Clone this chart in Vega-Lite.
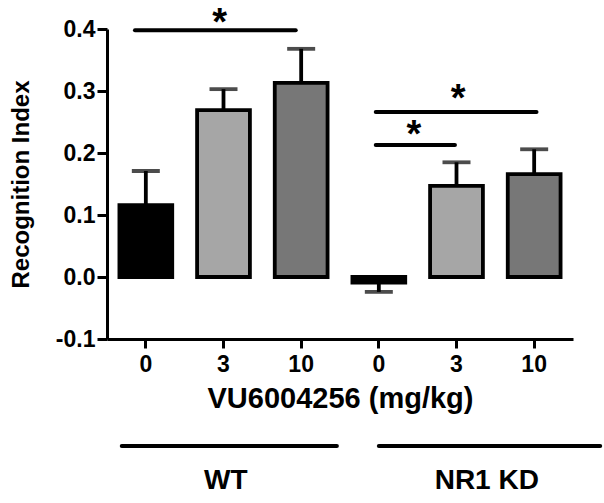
{
  "$schema": "https://vega.github.io/schema/vega-lite/v6.json",
  "width": 466,
  "height": 310,
  "autosize": {"type": "none"},
  "padding": {"left": 107, "top": 29, "right": 31, "bottom": 164},
  "background": "white",
  "config": {
    "view": {"stroke": null},
    "font": "Liberation Sans",
    "axis": {"grid": false}
  },
  "datasets": {
    "bars": [
      {"cond": "WT-0", "shade": "black", "mean": 0.116, "err": 0.171},
      {"cond": "WT-3", "shade": "light", "mean": 0.269, "err": 0.303},
      {"cond": "WT-10", "shade": "dark", "mean": 0.313, "err": 0.368},
      {"cond": "KD-0", "shade": "black", "mean": -0.009, "err": -0.024},
      {"cond": "KD-3", "shade": "light", "mean": 0.147, "err": 0.185},
      {"cond": "KD-10", "shade": "dark", "mean": 0.166, "err": 0.206}
    ],
    "sig": [
      {"x1": 0.36, "x2": 2.43, "y": 0.398},
      {"x1": 3.46, "x2": 5.53, "y": 0.266},
      {"x1": 3.46, "x2": 4.48, "y": 0.213}
    ],
    "stars": [
      {"x": 1.45, "y": 0.391, "t": "*"},
      {"x": 4.52, "y": 0.267, "t": "*"},
      {"x": 3.95, "y": 0.209, "t": "*"}
    ],
    "groups": [
      {"x1": 0.19, "x2": 2.96, "y": -0.2726},
      {"x1": 3.5, "x2": 6.35, "y": -0.2726}
    ],
    "glabels": [
      {"x": 1.53, "y": -0.329, "t": "WT"},
      {"x": 4.89, "y": -0.329, "t": "NR1 KD"}
    ]
  },
  "layer": [
    {
      "data": {"name": "bars"},
      "layer": [
        {
          "mark": {"type": "rule", "strokeWidth": 3.8, "color": "black"},
          "encoding": {
            "x": {"field": "cond", "type": "nominal", "sort": null},
            "y": {"field": "mean", "type": "quantitative"},
            "y2": {"field": "err"}
          }
        },
        {
          "mark": {"type": "tick", "size": 28, "thickness": 3.8, "color": "black", "orient": "horizontal"},
          "encoding": {
            "x": {"field": "cond", "type": "nominal", "sort": null},
            "y": {"field": "err", "type": "quantitative"}
          }
        },
        {
          "mark": {"type": "bar", "stroke": "black", "strokeWidth": 3.8},
          "encoding": {
            "x": {
              "field": "cond", "type": "nominal", "sort": null,
              "scale": {"paddingInner": 0.32, "paddingOuter": 0.16},
              "axis": {
                "labelExpr": "split(datum.label, '-')[1]",
                "labelAngle": 0,
                "labelAlign": "center",
                "labelBaseline": "top",
                "labelFont": "Liberation Sans",
                "labelFontWeight": "bold",
                "labelFontSize": 23,
                "labelColor": "black",
                "labelPadding": 5,
                "domainColor": "black",
                "domainWidth": 3,
                "tickColor": "black",
                "tickWidth": 3,
                "tickSize": 9,
                "title": "VU6004256 (mg/kg)",
                "titleFont": "Liberation Sans",
                "titleFontWeight": "bold",
                "titleFontSize": 29,
                "titleColor": "black",
                "titlePadding": 8
              }
            },
            "y": {
              "field": "mean", "type": "quantitative",
              "scale": {"domain": [-0.1, 0.4], "nice": false, "zero": false},
              "axis": {
                "values": [-0.1, 0, 0.1, 0.2, 0.3, 0.4],
                "labelExpr": "datum.value < 0 ? '-' + format(-datum.value, '.1f') : format(datum.value, '.1f')",
                "labelFont": "Liberation Sans",
                "labelFontWeight": "bold",
                "labelFontSize": 23,
                "labelColor": "black",
                "labelPadding": 2,
                "domainColor": "black",
                "domainWidth": 3,
                "tickColor": "black",
                "tickWidth": 3,
                "tickSize": 10,
                "title": "Recognition Index",
                "titleFont": "Liberation Sans",
                "titleFontWeight": "bold",
                "titleFontSize": 24,
                "titleColor": "black",
                "titlePadding": 22
              }
            },
            "y2": {"datum": 0},
            "fill": {
              "field": "shade", "type": "nominal",
              "scale": {"domain": ["black", "light", "dark"], "range": ["#000000", "#a6a6a6", "#777777"]},
              "legend": null
            }
          }
        }
      ]
    },
    {
      "mark": {"type": "rule", "strokeWidth": 3, "color": "black"},
      "encoding": {"y": {"datum": 0, "type": "quantitative"}}
    },
    {
      "data": {"name": "sig"},
      "mark": {"type": "rule", "strokeWidth": 4, "color": "black", "strokeCap": "round"},
      "encoding": {
        "x": {"field": "x1", "type": "quantitative", "scale": {"domain": [0, 6], "nice": false, "zero": false}, "axis": null},
        "x2": {"field": "x2"},
        "y": {"field": "y", "type": "quantitative"}
      }
    },
    {
      "data": {"name": "groups"},
      "mark": {"type": "rule", "strokeWidth": 4, "color": "black", "strokeCap": "round"},
      "encoding": {
        "x": {"field": "x1", "type": "quantitative", "scale": {"domain": [0, 6], "nice": false, "zero": false}, "axis": null},
        "x2": {"field": "x2"},
        "y": {"field": "y", "type": "quantitative"}
      }
    },
    {
      "data": {"name": "stars"},
      "mark": {"type": "text", "font": "Liberation Sans", "fontWeight": "bold", "fontSize": 38, "baseline": "alphabetic", "align": "center", "color": "black"},
      "encoding": {
        "x": {"field": "x", "type": "quantitative", "scale": {"domain": [0, 6], "nice": false, "zero": false}, "axis": null},
        "y": {"field": "y", "type": "quantitative"},
        "text": {"field": "t"}
      }
    },
    {
      "data": {"name": "glabels"},
      "mark": {"type": "text", "font": "Liberation Sans", "fontWeight": "bold", "fontSize": 28, "baseline": "middle", "align": "center", "color": "black"},
      "encoding": {
        "x": {"field": "x", "type": "quantitative", "scale": {"domain": [0, 6], "nice": false, "zero": false}, "axis": null},
        "y": {"field": "y", "type": "quantitative"},
        "text": {"field": "t"}
      }
    }
  ],
  "resolve": {"scale": {"x": "independent"}}
}
